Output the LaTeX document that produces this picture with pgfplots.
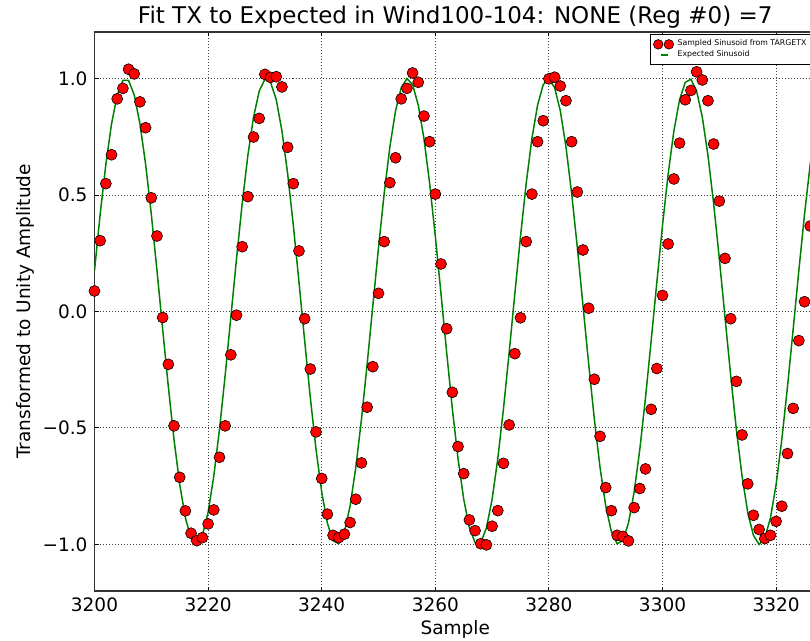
\documentclass[border=0pt]{standalone}
\usepackage{fontspec}
\setmainfont{DejaVu Sans}
\usepackage{pgfplots}
\usepackage{pgfplotstable}
\pgfplotsset{compat=1.18}
\definecolor{mplgreen}{HTML}{008000}
\definecolor{mplred}{HTML}{FF0000}

% samples (one per sample index)
\pgfplotstableread{
x y
3200 0.088
3201 0.304
3202 0.549
3203 0.673
3204 0.913
3205 0.958
3206 1.040
3207 1.020
3208 0.900
3209 0.789
3210 0.488
3211 0.324
3212 -0.026
3213 -0.227
3214 -0.491
3215 -0.712
3216 -0.856
3217 -0.952
3218 -0.984
3219 -0.971
3220 -0.912
3221 -0.852
3222 -0.626
3223 -0.491
3224 -0.186
3225 -0.016
3226 0.278
3227 0.493
3228 0.749
3229 0.829
3230 1.018
3231 1.005
3232 1.008
3233 0.964
3234 0.705
3235 0.549
3236 0.260
3237 -0.031
3238 -0.247
3239 -0.517
3240 -0.717
3241 -0.870
3242 -0.961
3243 -0.971
3244 -0.956
3245 -0.906
3246 -0.806
3247 -0.650
3248 -0.411
3249 -0.237
3250 0.078
3251 0.300
3252 0.553
3253 0.660
3254 0.913
3255 0.958
3256 1.024
3257 0.984
3258 0.839
3259 0.729
3260 0.504
3261 0.204
3262 -0.074
3263 -0.347
3264 -0.580
3265 -0.696
3266 -0.895
3267 -0.941
3268 -0.997
3269 -1.002
3270 -0.922
3271 -0.855
3272 -0.652
3273 -0.487
3274 -0.181
3275 -0.027
3276 0.300
3277 0.504
3278 0.729
3279 0.819
3280 0.999
3281 1.006
3282 0.968
3283 0.905
3284 0.729
3285 0.513
3286 0.264
3287 0.014
3288 -0.291
3289 -0.536
3290 -0.756
3291 -0.855
3292 -0.961
3293 -0.966
3294 -0.985
3295 -0.842
3296 -0.760
3297 -0.676
3298 -0.420
3299 -0.245
3300 0.069
3301 0.290
3302 0.569
3303 0.723
3304 0.909
3305 0.949
3306 1.029
3307 0.994
3308 0.905
3309 0.719
3310 0.474
3311 0.228
3312 -0.031
3313 -0.300
3314 -0.530
3315 -0.740
3316 -0.875
3317 -0.936
3318 -0.975
3319 -0.961
3320 -0.901
3321 -0.836
3322 -0.610
3323 -0.416
3324 -0.125
3325 0.042
3326 0.367
}\sampled

% expected sinusoid, as drawn (one vertex per sample index)
\pgfplotstableread{
x y
3200 0.176
3201 0.418
3202 0.632
3203 0.806
3204 0.929
3205 0.992
3206 0.992
3207 0.929
3208 0.806
3209 0.632
3210 0.418
3211 0.176
3212 -0.076
3213 -0.323
3214 -0.550
3215 -0.742
3216 -0.886
3217 -0.974
3218 -1.000
3219 -0.961
3220 -0.862
3221 -0.707
3222 -0.507
3223 -0.275
3224 -0.025
3225 0.226
3226 0.463
3227 0.670
3228 0.835
3229 0.946
3230 0.997
3231 0.984
3232 0.909
3233 0.775
3234 0.592
3235 0.371
3236 0.126
3237 -0.126
3238 -0.371
3239 -0.592
3240 -0.775
3241 -0.909
3242 -0.984
3243 -0.997
3244 -0.946
3245 -0.835
3246 -0.670
3247 -0.463
3248 -0.226
3249 0.025
3250 0.275
3251 0.507
3252 0.707
3253 0.862
3254 0.961
3255 1.000
3256 0.974
3257 0.886
3258 0.742
3259 0.550
3260 0.323
3261 0.076
3262 -0.176
3263 -0.418
3264 -0.632
3265 -0.806
3266 -0.929
3267 -0.992
3268 -0.992
3269 -0.929
3270 -0.806
3271 -0.632
3272 -0.418
3273 -0.176
3274 0.076
3275 0.323
3276 0.550
3277 0.742
3278 0.886
3279 0.974
3280 1.000
3281 0.961
3282 0.862
3283 0.707
3284 0.507
3285 0.275
3286 0.025
3287 -0.226
3288 -0.463
3289 -0.670
3290 -0.835
3291 -0.946
3292 -0.997
3293 -0.984
3294 -0.909
3295 -0.775
3296 -0.592
3297 -0.371
3298 -0.126
3299 0.126
3300 0.371
3301 0.592
3302 0.775
3303 0.909
3304 0.984
3305 0.997
3306 0.946
3307 0.835
3308 0.670
3309 0.463
3310 0.226
3311 -0.025
3312 -0.275
3313 -0.507
3314 -0.707
3315 -0.862
3316 -0.961
3317 -1.000
3318 -0.974
3319 -0.886
3320 -0.742
3321 -0.550
3322 -0.323
3323 -0.076
3324 0.176
3325 0.418
3326 0.632
3327 0.806
}\expected

\begin{document}
\begin{tikzpicture}
  % the reference is cut off at the right, through the axis
  \path[use as bounding box] (0,0) rectangle (405pt,320.5pt);
  \clip (0,0) rectangle (405pt,320.5pt);
  \begin{axis}[
    at={(47.25pt,25pt)}, anchor=south west,
    scale only axis,
    width=360.7pt, height=279.5pt,
    xmin=3200, xmax=3327,
    ymin=-1.2, ymax=1.2,
    xtick={3200,3220,3240,3260,3280,3300,3320},
    xticklabels={3200,3220,3240,3260,3280,3300,3320},
    ytick={-1,-0.5,0,0.5,1},
    yticklabels={−1.0,−0.5,0.0,0.5,1.0},
    tick align=inside,
    major tick length=2.2pt,
    tick style={black, line width=0.5pt},
    tick label style={font=\fontsize{9.25}{11}\selectfont},
    label style={font=\fontsize{9.25}{11}\selectfont},
    grid=major,
    grid style={black!75, line width=0.5pt, dash pattern=on 0.5pt off 1pt},
    axis line style={black!80, line width=0.6pt},
    title={Fit TX to Expected in Wind100-104: NONE (Reg \#0) =7},
    every axis title/.style={at={(0.5,1)}, anchor=base, yshift=4pt,
      font=\fontsize{11.5}{13}\selectfont},
    xlabel={Sample},
    ylabel={Transformed to Unity Amplitude},
    xlabel shift=-2.5pt,
    ylabel shift=-3pt,
    legend style={at={(1,1)}, anchor=north east, xshift=-1pt, yshift=-1.2pt,
      font=\fontsize{3.9}{4.6}\selectfont, draw=black, line width=0.5pt,
      fill=white, inner xsep=1.5pt, inner ysep=0.5pt, row sep=-3.1pt},
    legend cell align=left,
  ]
    \addplot[only marks, mark=*, mark size=2.75pt,
      mark options={fill=mplred, draw=black, line width=0.3pt},
      legend image code/.code={
        \draw[only marks, mark=*, mark size=2.4pt,
          mark options={fill=mplred, draw=black, line width=0.3pt}]
          plot coordinates {(0pt,0pt) (5.3pt,0pt)};}
    ] table[x=x, y=y] {\sampled};
    \addplot[mplgreen, line width=0.75pt, no marks,
      legend image code/.code={\draw[mplgreen, line width=0.75pt] (1.5pt,0pt) -- (5pt,0pt);}
    ] table[x=x, y=y] {\expected};
    \legend{Sampled Sinusoid from TARGETX, Expected Sinusoid}
  \end{axis}
\end{tikzpicture}
\end{document}
